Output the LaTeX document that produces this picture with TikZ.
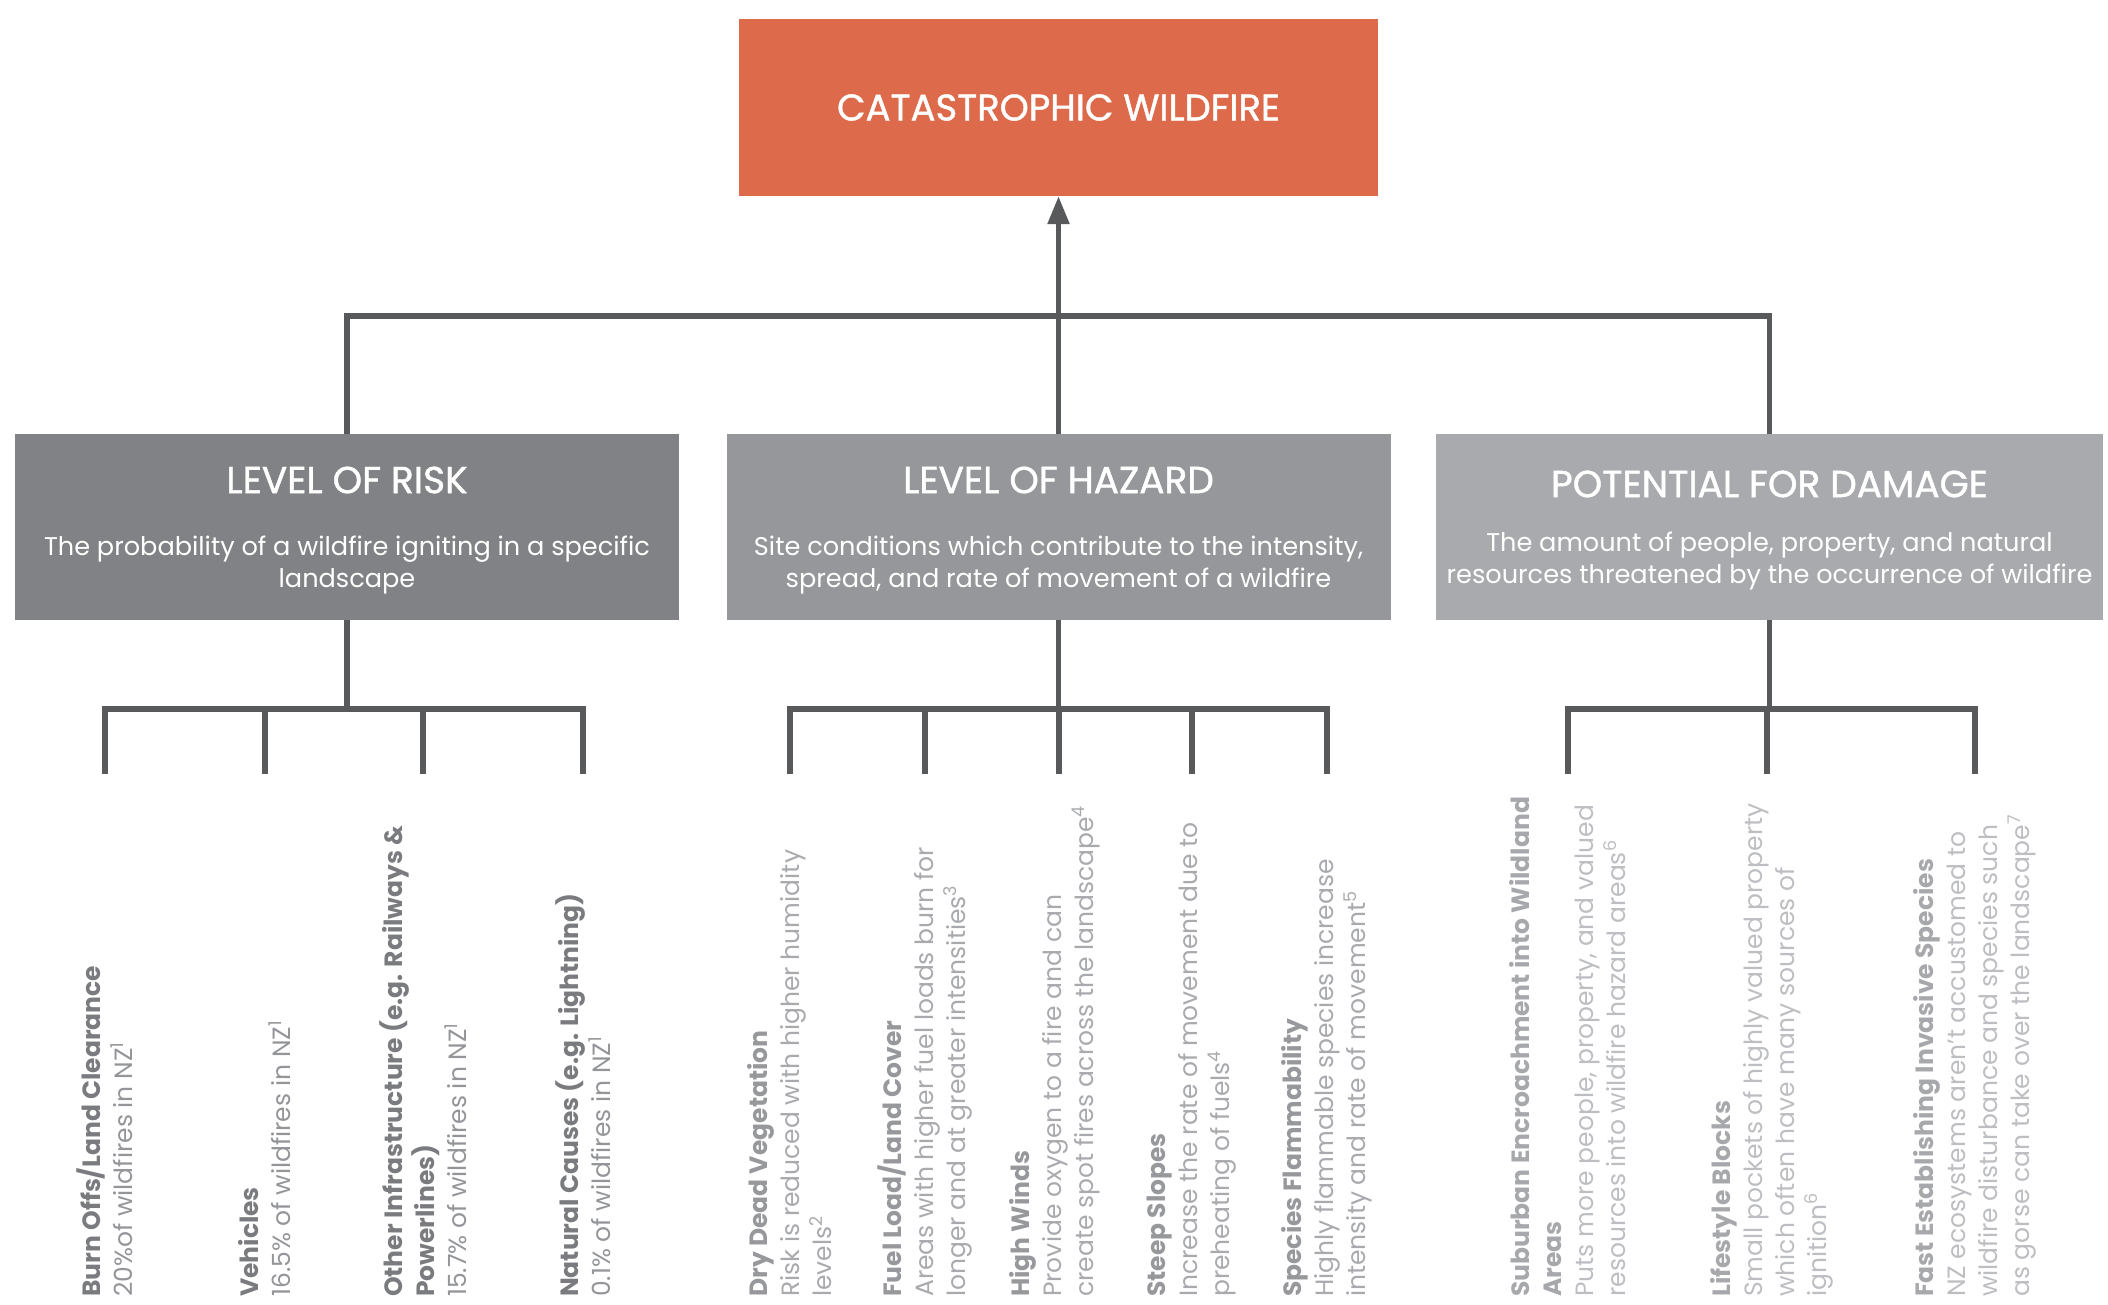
\documentclass[tikz,border=0pt]{standalone}
\usepackage{fontspec}
\setmainfont{Poppins}
\newfontfamily\headfont{Poppins}[FakeBold=1.2]
\usetikzlibrary{arrows.meta}
\definecolor{topc}{HTML}{DD6A4B}
\definecolor{riskc}{HTML}{818285}
\definecolor{hazc}{HTML}{96979A}
\definecolor{dmgc}{HTML}{A9AAAD}
\definecolor{linec}{HTML}{58595B}
\definecolor{rt}{HTML}{7A7B7E}
\definecolor{rd}{HTML}{939598}
\definecolor{ht}{HTML}{97989B}
\definecolor{hd}{HTML}{A9AAAD}
\definecolor{dt}{HTML}{A7A8AB}
\definecolor{dd}{HTML}{BDBEC1}
\newcommand{\sps}[1]{\textsuperscript{#1}}
\begin{document}
\begin{tikzpicture}[x=1pt,y=-1pt,
  conn/.style={draw=linec, line width=5.5pt},
  catbox/.style={fill=#1, minimum width=664pt, minimum height=186pt, inner sep=0pt},
  headtxt/.style={text=white, font=\headfont\fontsize{37.5}{42}\selectfont, inner sep=0pt},
  subtxt/.style={text=white, font=\fontsize{25.6}{32.5}\selectfont, align=center, inner sep=0pt},
  item/.style={rotate=90, anchor=west, align=left, inner sep=0pt, font=\fontsize{25}{32}\selectfont, text=#1},
]
\useasboundingbox (0,0) rectangle (2108,1304);

% top box
\node[fill=topc, minimum width=639pt, minimum height=177pt, inner sep=0pt,
      text=white, font=\headfont\fontsize{37}{42}\selectfont] (top) at (1058.5,107.5) {CATASTROPHIC WILDFIRE};

% category boxes
\node[catbox=riskc] (risk) at (347,527) {};
\node[catbox=hazc] (haz) at (1058.5,527) {};
\node[catbox=dmgc, minimum width=667pt] (dmg) at (1769.5,527) {};

\node[headtxt] (riskh) at (347,480) {LEVEL OF RISK};
\node[subtxt] (risks) at (347,565) {The probability of a wildfire igniting in a specific\\landscape};
\node[headtxt] (hazh) at (1058.5,480) {LEVEL OF HAZARD};
\node[subtxt] (hazs) at (1058.5,565) {Site conditions which contribute to the intensity,\\spread, and rate of movement of a wildfire};
\node[headtxt] (dmgh) at (1769.5,484) {POTENTIAL FOR DAMAGE};
\node[subtxt] (dmgs) at (1769.5,561) {The amount of people, property, and natural\\resources threatened by the occurrence of wildfire};

% upper connectors
\coordinate (bar) at (1058.5,316);
\draw[conn] (risk.north) |- (bar) -| (dmg.north);
\draw[conn] (haz.north) -- (bar);
\draw[conn, -{Triangle[width=21pt,length=28pt]}] (bar) -- (top.south);

% tick ends
\coordinate (r1) at (105,774);
\coordinate (r2) at (265,774);
\coordinate (r3) at (423,774);
\coordinate (r4) at (583,774);
\coordinate (h1) at (790,774);
\coordinate (h2) at (925,774);
\coordinate (h3) at (1059,774);
\coordinate (h4) at (1192,774);
\coordinate (h5) at (1327,774);
\coordinate (d1) at (1568,774);
\coordinate (d2) at (1767,774);
\coordinate (d3) at (1975,774);

\coordinate (rb) at (347,709);
\coordinate (hb) at (1058.5,709);
\coordinate (db) at (1767,709);

\draw[conn] (risk.south) -- (rb);
\draw[conn] (r1) |- (rb) -| (r4);
\draw[conn] (r2) -- (r2 |- rb);
\draw[conn] (r3) -- (r3 |- rb);

\draw[conn] (haz.south) -- (hb);
\draw[conn] (h1) |- (hb) -| (h5);
\draw[conn] (h2) -- (h2 |- hb);
\draw[conn] (h3) -- (h3 |- hb);
\draw[conn] (h4) -- (h4 |- hb);

\draw[conn] (dmg.south) -- (dmg.south |- db);
\draw[conn] (d1) |- (db) -| (d3);
\draw[conn] (d2) -- (d2 |- db);

% items: risk
\node[item=rt] (i1) at (105,1297) {\textbf{Burn Offs/Land Clearance}\\\textcolor{rd}{20\%of wildfires in NZ\sps{1}}};
\node[item=rt] (i2) at (265,1297) {\textbf{Vehicles}\\\textcolor{rd}{16.5\% of wildfires in NZ\sps{1}}};
\node[item=rt] (i3) at (423,1297) {\textbf{Other Infrastructure (e.g. Railways \&}\\\textbf{Powerlines)}\\\textcolor{rd}{15.7\% of wildfires in NZ\sps{1}}};
\node[item=rt] (i4) at (583,1297) {\textbf{Natural Causes (e.g. Lightning)}\\\textcolor{rd}{0.1\% of wildfires in NZ\sps{1}}};

% items: hazard
\node[item=ht] (j1) at (790,1297) {\textbf{Dry Dead Vegetation}\\\textcolor{hd}{Risk is reduced with higher humidity}\\\textcolor{hd}{levels\sps{2}}};
\node[item=ht] (j2) at (925,1297) {\textbf{Fuel Load/Land Cover}\\\textcolor{hd}{Areas with higher fuel loads burn for}\\\textcolor{hd}{longer and at greater intensities\sps{3}}};
\node[item=ht] (j3) at (1055,1297) {\textbf{High Winds}\\\textcolor{hd}{Provide oxygen to a fire and can}\\\textcolor{hd}{create spot fires across the landscape\sps{4}}};
\node[item=ht] (j4) at (1192,1297) {\textbf{Steep Slopes}\\\textcolor{hd}{Increase the rate of movement due to}\\\textcolor{hd}{preheating of fuels\sps{4}}};
\node[item=ht] (j5) at (1327,1297) {\textbf{Species Flammability}\\\textcolor{hd}{Highly flammable species increase}\\\textcolor{hd}{intensity and rate of movement\sps{5}}};

% items: damage
\node[item=dt] (k1) at (1568,1297) {\textbf{Suburban Encroachment into Wildland}\\\textbf{Areas}\\\textcolor{dd}{Puts more people, property, and valued}\\\textcolor{dd}{resources into wildfire hazard areas\sps{6}}};
\node[item=dt] (k2) at (1772,1297) {\textbf{Lifestyle Blocks}\\\textcolor{dd}{Small pockets of highly valued property}\\\textcolor{dd}{which often have many sources of}\\\textcolor{dd}{ignition\sps{6}}};
\node[item=dt] (k3) at (1975,1297) {\textbf{Fast Establishing Invasive Species}\\\textcolor{dd}{NZ ecosystems aren't accustomed to}\\\textcolor{dd}{wildfire disturbance and species such}\\\textcolor{dd}{as gorse can take over the landscape\sps{7}}};
\end{tikzpicture}
\end{document}
